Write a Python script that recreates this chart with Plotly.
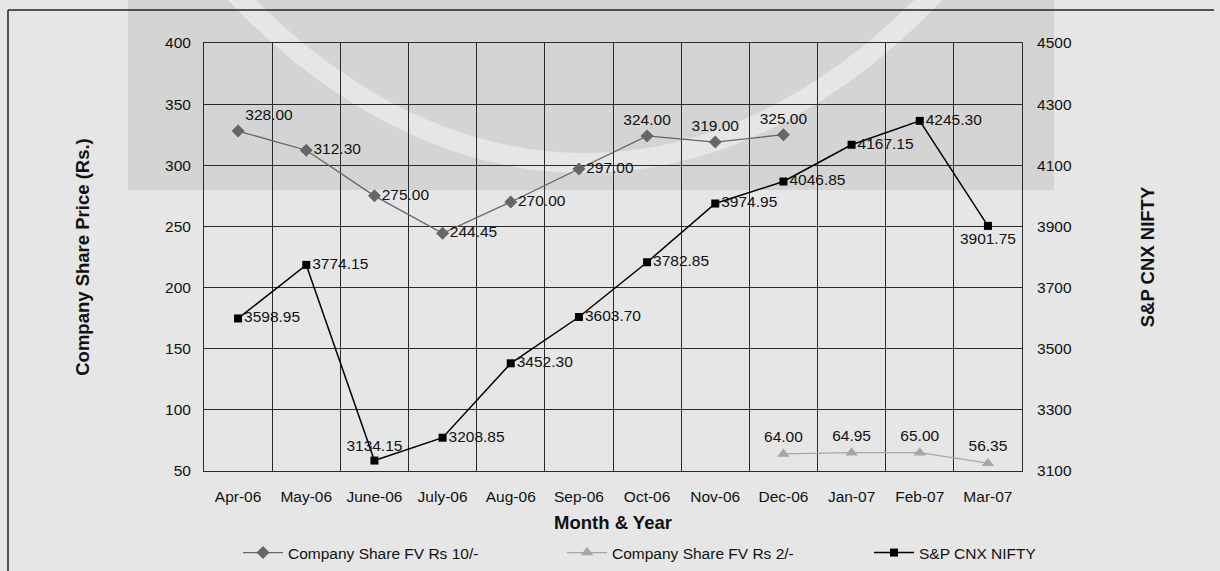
import plotly.graph_objects as go

months = ["Apr-06", "May-06", "June-06", "July-06", "Aug-06", "Sep-06",
          "Oct-06", "Nov-06", "Dec-06", "Jan-07", "Feb-07", "Mar-07"]

fv10_months = months[:9]
fv10_values = [328.00, 312.30, 275.00, 244.45, 270.00, 297.00, 324.00, 319.00, 325.00]

fv2_months = months[8:]
fv2_values = [64.00, 64.95, 65.00, 56.35]

nifty_values = [3598.95, 3774.15, 3134.15, 3208.85, 3452.30, 3603.70,
                3782.85, 3974.95, 4046.85, 4167.15, 4245.30, 3901.75]

W, H = 1220, 571
L, R, T, B = 204, 198, 43, 100
PW, PH = W - L - R, H - T - B


def px_x(x):
    return (x - L) / PW


def px_y(y):
    return (H - B - y) / PH


FONT = "Liberation Sans, Arial, sans-serif"

fv10_pos = ["top right", "middle right", "middle right", "middle right", "middle right",
            "middle right", "top center", "top center", "top center"]
nifty_pos = ["middle right", "middle right", "top center", "middle right", "middle right",
             "middle right", "middle right", "middle right", "middle right", "middle right",
             "middle right", "bottom center"]

fig = go.Figure()
fig.add_trace(go.Scatter(
    x=fv10_months, y=fv10_values, name="Company Share FV Rs 10/-",
    mode="lines+markers+text",
    line=dict(color="#666666", width=1.3),
    marker=dict(symbol="diamond", size=10, color="#666666"),
    text=[f"{v:.2f}" for v in fv10_values], textposition=fv10_pos,
    textfont=dict(size=15.5, color="#111111", family=FONT),
    yaxis="y", cliponaxis=False, legend="legend",
))
fig.add_trace(go.Scatter(
    x=fv2_months, y=fv2_values, name="Company Share FV Rs 2/-",
    mode="lines+markers+text",
    line=dict(color="#a6a6a6", width=1.3),
    marker=dict(symbol="triangle-up", size=11, color="#a6a6a6"),
    text=[f"{v:.2f}" for v in fv2_values], textposition="top center",
    textfont=dict(size=15.5, color="#111111", family=FONT),
    yaxis="y", cliponaxis=False, legend="legend2",
))
fig.add_trace(go.Scatter(
    x=months, y=nifty_values, name="S&P CNX NIFTY",
    mode="lines+markers+text",
    line=dict(color="#000000", width=1.5),
    marker=dict(symbol="square", size=8, color="#000000"),
    text=[f"{v:.2f}" for v in nifty_values], textposition=nifty_pos,
    textfont=dict(size=15.5, color="#111111", family=FONT),
    yaxis="y2", cliponaxis=False, legend="legend3",
))

shapes = [
    # watermark rectangle
    dict(type="rect", xref="paper", yref="paper",
         x0=px_x(128), x1=px_x(1054), y0=px_y(190), y1=px_y(-5),
         fillcolor="#d4d4d4", line=dict(width=0), layer="below"),
    # watermark arc
    dict(type="circle", xref="paper", yref="paper",
         x0=px_x(585 - 647), x1=px_x(585 + 647),
         y0=px_y(163), y1=px_y(163 - 2 * 1072),
         fillcolor="rgba(0,0,0,0)", line=dict(color="#e6e6e6", width=20), layer="below"),
    # outer border (top and left edges visible)
    dict(type="line", xref="paper", yref="paper",
         x0=px_x(8), x1=px_x(1214), y0=px_y(10), y1=px_y(10),
         line=dict(color="#222222", width=1.5), layer="below"),
    dict(type="line", xref="paper", yref="paper",
         x0=px_x(8), x1=px_x(8), y0=px_y(10), y1=px_y(575),
         line=dict(color="#222222", width=1.5), layer="below"),
]


def leg(xpx):
    return dict(orientation="h", x=px_x(xpx), xanchor="left", y=px_y(553), yanchor="middle",
                font=dict(size=15.5, family=FONT, color="#111111"), bgcolor="rgba(0,0,0,0)",
                itemwidth=40)


fig.update_layout(
    width=W, height=H,
    margin=dict(l=L, r=R, t=T, b=B, autoexpand=False),
    paper_bgcolor="#e6e6e6",
    plot_bgcolor="rgba(0,0,0,0)",
    font=dict(family=FONT, size=15.5, color="#111111"),
    shapes=shapes,
    showlegend=True,
    legend=leg(238),
    legend2=leg(562),
    legend3=leg(869),
    xaxis=dict(
        type="category", categoryorder="array", categoryarray=months,
        tickson="boundaries", showgrid=True, gridcolor="#2a2a2a", gridwidth=1,
        showline=True, linecolor="#2a2a2a", linewidth=1, mirror=True,
        ticks="", ticklabelstandoff=11, tickfont=dict(size=15.5),
        title=dict(text="<b>Month &amp; Year</b>", font=dict(size=18.5), standoff=12),
        range=[-0.5, 11.5],
    ),
    yaxis=dict(
        range=[50, 400], dtick=50, tick0=50, showgrid=True, gridcolor="#2a2a2a", gridwidth=1,
        showline=True, linecolor="#2a2a2a", linewidth=1, zeroline=False,
        ticks="", ticklabelstandoff=9, tickfont=dict(size=15.5),
        title=dict(text="<b>Company Share Price (Rs.)</b>", font=dict(size=18.5), standoff=70),
    ),
    yaxis2=dict(
        range=[3100, 4500], dtick=200, tick0=3100, overlaying="y", side="right",
        showgrid=False, showline=True, linecolor="#2a2a2a", linewidth=1, zeroline=False,
        ticks="", ticklabelstandoff=11, tickfont=dict(size=15.5),
        title=dict(text="<b>S&amp;P CNX NIFTY</b>", font=dict(size=18.5), standoff=70),
    ),
)

fig.write_html("out.html")
